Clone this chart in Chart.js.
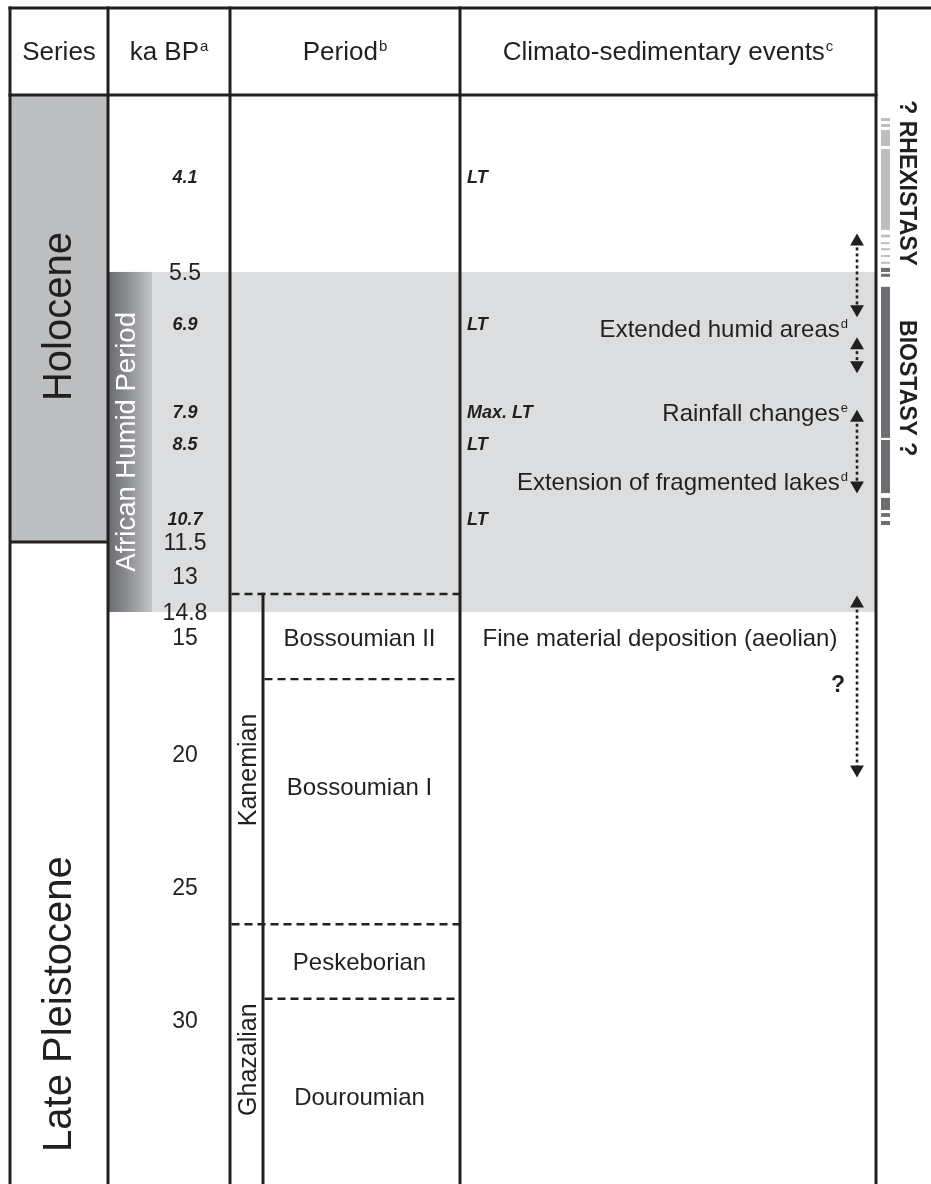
<!DOCTYPE html>
<html>
<head>
<meta charset="utf-8">
<script src="https://cdn.jsdelivr.net/npm/chart.js@4.4.1/dist/chart.umd.min.js"></script>
<style>
  html, body { margin: 0; padding: 0; background: #ffffff; }
  #wrap { width: 931px; height: 1184px; position: relative; }
</style>
</head>
<body>
<div id="wrap"><canvas id="chart"></canvas></div>
<script>
// ---------- data (ages in ka BP) ----------
const kaTicks = [4.1, 5.5, 6.9, 7.9, 8.5, 10.7, 11.5, 13, 14.8, 15, 20, 25, 30];
const lakeTransgressionAges = [4.1, 6.9, 7.9, 8.5, 10.7];
const lakeTransgressionLabels = ['LT', 'LT', 'Max. LT', 'LT', 'LT'];

const seriesNames = ['Holocene', 'Late Pleistocene'];
const seriesBounds = [0, 11.5, 36.2];
const seriesLabelAges = [6.7, 29.4];

const humidPeriodName = 'African Humid Period';
const humidPeriodSpan = [5.5, 14.8];

const stageNames = ['Kanemian', 'Ghazalian'];
const stageTops = [13.9, 26.4];
const stageLabelAges = [20.6, 31.5];

const periodNames = ['Bossoumian II', 'Bossoumian I', 'Peskeborian', 'Douroumian'];
const periodTops = [13.9, 16.8, 26.4, 29.2];
const periodLabelAges = [15.0, 21.2, 27.8, 32.9];

const eventNames = ['Extended humid areas', 'Rainfall changes', 'Extension of fragmented lakes'];
const eventNotes = ['d', 'e', 'd'];
const eventAges = [6.95, 7.9, 9.6];
const aeolianText = 'Fine material deposition (aeolian)';
const aeolianAge = 15.0;
const aeolianQueryAge = 17.0;
const eventRanges = [[5.05, 6.5], [7.14, 7.37], [8.01, 9.73], [14.38, 20.58]];

const rhexistasySegments = [[1.15, 1.30], [1.45, 1.60], [1.75, 2.55], [2.70, 4.88], [4.95, 4.99],
                            [5.06, 5.09], [5.15, 5.18], [5.25, 5.28], [5.35, 5.38]];
const biostasySegments = [[5.44, 5.50], [5.55, 5.63], [5.90, 8.40], [8.44, 9.95],
                          [10.09, 10.44], [10.53, 10.64], [10.77, 10.91]];
const phaseLabels = ['? RHEXISTASY', 'BIOSTASY ?'];
const phaseLabelAges = [4.19, 7.63];

const headerTitles = ['Series', 'ka BP', 'Period', 'Climato-sedimentary events'];
const headerNotes = ['', 'a', 'b', 'c'];

// ---------- layout ----------
// schematic (non-linear) depth of the age axis: fraction of the body height for each anchor age
const AGE_ANCHORS = [0, 4.1, 5.5, 6.9, 7.9, 8.5, 10.7, 11.5, 13, 14.8, 15, 20, 25, 30, 36.2];
const AGE_DEPTHS  = [0, 0.0753, 0.1625, 0.2103, 0.2911, 0.3196, 0.3893, 0.4105, 0.4417, 0.4747, 0.4977, 0.6051, 0.7273, 0.8494, 1.0];
const COL = { left: 10, series: 108, ka: 230, stage: 263, events: 460, strip: 876, right: 931,
              gradEnd: 152, kaText: 185, ltText: 467, noteRight: 848, arrow: 857, query: 838,
              barL: 881, barR: 890, phaseText: 908, seriesText: 57, humidText: 125, stageText: 247 };
const TOP_Y = 8, HEAD_Y = 95, HEAD_TEXT_Y = 51;
const INK = '#231f20';
const FONT = '"Liberation Sans", Arial, Helvetica, sans-serif';

// ---------- piecewise age scale ----------
function interp(v, xs, ys) {
  let i = 1;
  while (i < xs.length - 1 && v > xs[i]) i++;
  const t = (v - xs[i - 1]) / (xs[i] - xs[i - 1]);
  return ys[i - 1] + t * (ys[i] - ys[i - 1]);
}
class AgeScale extends Chart.LinearScale {
  getPixelForValue(value) {
    if (value === null || value === undefined || isNaN(value)) return NaN;
    return this.top + interp(value, AGE_ANCHORS, AGE_DEPTHS) * (this.bottom - this.top);
  }
  getValueForPixel(pixel) {
    return interp((pixel - this.top) / (this.bottom - this.top), AGE_DEPTHS, AGE_ANCHORS);
  }
}
AgeScale.id = 'age';
AgeScale.defaults = Chart.LinearScale.defaults;
Chart.register(AgeScale);

// ---------- drawing helpers ----------
function font(size, weight = '', style = '') {
  return `${style} ${weight} ${size}px ${FONT}`.trim();
}
function drawText(ctx, s, x, y, size, opts = {}) {
  ctx.save();
  ctx.font = font(size, opts.weight || '', opts.style || '');
  ctx.fillStyle = opts.color || INK;
  ctx.textAlign = opts.align || 'center';
  ctx.textBaseline = 'alphabetic';
  if (opts.rotate) {
    ctx.translate(x, y);
    ctx.rotate(opts.rotate);
    ctx.fillText(s, 0, 0.36 * size);
  } else {
    ctx.fillText(s, x, y + 0.36 * size);
  }
  ctx.restore();
}
// text with a small raised note letter; anchor: 'center' or 'right'
function drawNoted(ctx, s, note, x, y, size, anchor) {
  const supSize = Math.round(size * 0.56);
  ctx.save();
  ctx.font = font(size);
  const wMain = ctx.measureText(s).width;
  ctx.font = font(supSize);
  const wSup = note ? ctx.measureText(note).width + 1 : 0;
  const total = wMain + wSup;
  const x0 = anchor === 'right' ? x - total : x - total / 2;
  const base = y + 0.36 * size;
  ctx.fillStyle = INK;
  ctx.textAlign = 'left';
  ctx.textBaseline = 'alphabetic';
  ctx.font = font(size);
  ctx.fillText(s, x0, base);
  if (note) {
    ctx.font = font(supSize);
    ctx.fillText(note, x0 + wMain + 1, base - 0.36 * size);
  }
  ctx.restore();
}
function hLine(ctx, x1, x2, y, width, dash) {
  ctx.save();
  ctx.strokeStyle = INK;
  ctx.lineWidth = width;
  ctx.setLineDash(dash || []);
  ctx.beginPath();
  ctx.moveTo(x1, y);
  ctx.lineTo(x2, y);
  ctx.stroke();
  ctx.restore();
}
function vLine(ctx, x, y1, y2, width) {
  ctx.save();
  ctx.strokeStyle = INK;
  ctx.lineWidth = width;
  ctx.beginPath();
  ctx.moveTo(x, y1);
  ctx.lineTo(x, y2);
  ctx.stroke();
  ctx.restore();
}

const tablePlugin = {
  id: 'stratTable',
  beforeDatasetsDraw(chart) {
    const { ctx } = chart;
    const ys = chart.scales.y, xs = chart.scales.x;
    const Y = a => ys.getPixelForValue(a);
    const X = v => xs.getPixelForValue(v);
    const bottom = chart.chartArea.bottom;

    // Holocene block
    ctx.fillStyle = '#bcbec0';
    ctx.fillRect(X(COL.left), Y(seriesBounds[0]), X(COL.series) - X(COL.left), Y(seriesBounds[1]) - Y(seriesBounds[0]));

    // African Humid Period band
    const hTop = Y(humidPeriodSpan[0]), hBot = Y(humidPeriodSpan[1]);
    ctx.fillStyle = '#dcdddf';
    ctx.fillRect(X(COL.series), hTop, X(COL.strip) - X(COL.series), hBot - hTop);
    const grad = ctx.createLinearGradient(X(COL.series), 0, X(COL.gradEnd), 0);
    grad.addColorStop(0, '#6a6b6e');
    grad.addColorStop(0.45, '#8e8f92');
    grad.addColorStop(1, '#c3c4c6');
    ctx.fillStyle = grad;
    ctx.fillRect(X(COL.series), hTop, X(COL.gradEnd) - X(COL.series), hBot - hTop);

    // rhexistasy / biostasy bar
    ctx.fillStyle = '#bcbec0';
    rhexistasySegments.forEach(([a, b]) => ctx.fillRect(X(COL.barL), Y(a), X(COL.barR) - X(COL.barL), Y(b) - Y(a)));
    ctx.fillStyle = '#6d6e71';
    biostasySegments.forEach(([a, b]) => ctx.fillRect(X(COL.barL), Y(a), X(COL.barR) - X(COL.barL), Y(b) - Y(a)));

    // period boundaries (dashed)
    periodTops.forEach(t => {
      const fromStage = stageTops.includes(t);
      hLine(ctx, X(fromStage ? COL.ka : COL.stage) + 1.5, X(COL.events), Y(t), 2.4, [8, 5]);
    });

    // frame lines
    hLine(ctx, X(COL.left) - 1.5, X(COL.right), TOP_Y, 3);
    hLine(ctx, X(COL.left) - 1.5, X(COL.strip) + 1.5, HEAD_Y, 3);
    hLine(ctx, X(COL.left), X(COL.series), Y(seriesBounds[1]), 3);
    [COL.left, COL.series, COL.ka, COL.events, COL.strip].forEach(c => vLine(ctx, X(c), TOP_Y - 1.5, bottom, 3));
    vLine(ctx, X(COL.stage), Y(stageTops[0]) - 1.2, bottom, 3);
  },
  afterDatasetsDraw(chart) {
    const { ctx } = chart;
    const ys = chart.scales.y, xs = chart.scales.x;
    const Y = a => ys.getPixelForValue(a);
    const X = v => xs.getPixelForValue(v);

    // header row
    const headCenters = [
      (COL.left + COL.series) / 2, (COL.series + COL.ka) / 2,
      (COL.ka + COL.events) / 2, (COL.events + COL.strip) / 2
    ];
    headerTitles.forEach((t, i) => drawNoted(ctx, t, headerNotes[i], X(headCenters[i]), HEAD_TEXT_Y, 26, 'center'));

    // series names
    seriesNames.forEach((s, i) => drawText(ctx, s, X(COL.seriesText), Y(seriesLabelAges[i]), 40, { rotate: -Math.PI / 2 }));

    // African Humid Period label
    drawText(ctx, humidPeriodName, X(COL.humidText), (Y(humidPeriodSpan[0]) + Y(humidPeriodSpan[1])) / 2, 27.5,
      { rotate: -Math.PI / 2, color: '#ffffff' });

    // ka BP ticks: lake transgression dates in bold italic
    kaTicks.forEach(k => {
      const lt = lakeTransgressionAges.includes(k);
      drawText(ctx, String(k), X(COL.kaText), Y(k), lt ? 18 : 23, lt ? { weight: 'bold', style: 'italic' } : {});
    });

    // stages and periods
    stageNames.forEach((s, i) => drawText(ctx, s, X(COL.stageText), Y(stageLabelAges[i]), 25, { rotate: -Math.PI / 2 }));
    periodNames.forEach((s, i) => drawText(ctx, s, X((COL.stage + COL.events) / 2 - 2), Y(periodLabelAges[i]), 24));

    // lake transgressions
    lakeTransgressionAges.forEach((a, i) =>
      drawText(ctx, lakeTransgressionLabels[i], X(COL.ltText), Y(a), 18, { weight: 'bold', style: 'italic', align: 'left' }));

    // climato-sedimentary events
    eventNames.forEach((s, i) => drawNoted(ctx, s, eventNotes[i], X(COL.noteRight), Y(eventAges[i]), 24, 'right'));
    drawText(ctx, aeolianText, X((COL.events + COL.strip) / 2 - 8), Y(aeolianAge), 24);
    drawText(ctx, '?', X(COL.query), Y(aeolianQueryAge), 23, { weight: 'bold' });

    // pedogenic phases
    phaseLabels.forEach((s, i) => drawText(ctx, s, X(COL.phaseText), Y(phaseLabelAges[i]), 23,
      { weight: 'bold', rotate: Math.PI / 2 }));
  }
};

// dotted double-headed arrows for each event range
const arrowSets = eventRanges.map(([a, b]) => ({
  data: [{ x: COL.arrow, y: a }, { x: COL.arrow, y: b }],
  showLine: true,
  borderColor: INK,
  borderWidth: 2.6,
  borderDash: [3, 3],
  pointStyle: 'triangle',
  pointRadius: 8,
  pointHoverRadius: 8,
  pointRotation: ctx => (ctx.dataIndex === 0 ? 0 : 180),
  pointBackgroundColor: INK,
  pointBorderWidth: 0,
  clip: false
}));

new Chart(document.getElementById('chart'), {
  type: 'scatter',
  data: { datasets: arrowSets },
  options: {
    responsive: true,
    maintainAspectRatio: false,
    devicePixelRatio: 1,
    animation: false,
    events: [],
    layout: { autoPadding: false, padding: { top: HEAD_Y, left: 0, right: 0, bottom: 0 } },
    plugins: { legend: { display: false }, tooltip: { enabled: false } },
    scales: {
      x: { type: 'linear', min: 0, max: COL.right, display: false },
      y: { type: 'age', min: 0, max: AGE_ANCHORS[AGE_ANCHORS.length - 1], display: false }
    }
  },
  plugins: [tablePlugin]
});
</script>
</body>
</html>
